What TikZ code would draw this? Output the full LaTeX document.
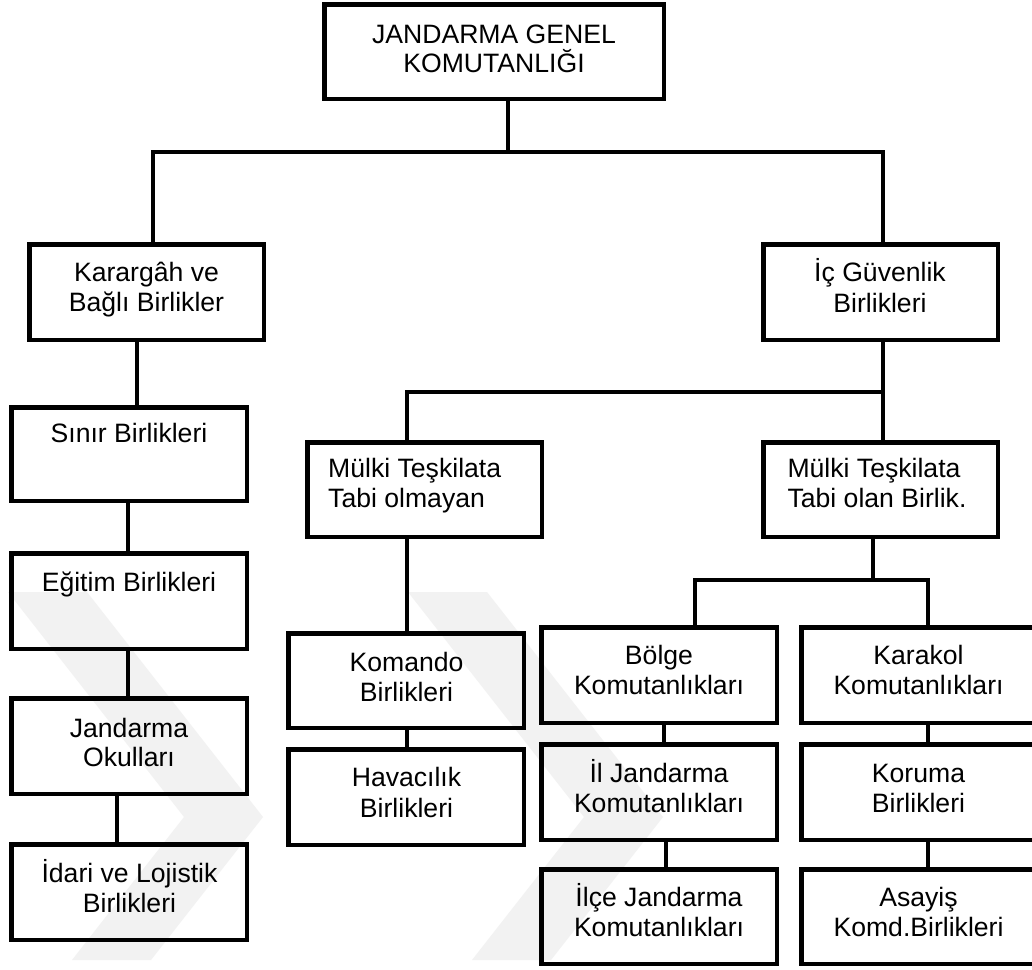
\documentclass[tikz,border=0pt]{standalone}
\usepackage{fontspec}
\setmainfont{Liberation Sans}
\begin{document}
\begin{tikzpicture}[x=1pt,y=-1pt,
  box/.style={draw=black, line width=4.5pt, inner sep=0pt, minimum width=235.5pt, minimum height=95.5pt},
  txt/.style={inner sep=0pt, anchor=base, font=\fontsize{26.6}{30}\selectfont},
  link/.style={draw=black, line width=4.5pt},
  wmark/.style={fill=black!5, draw=none}]
\useasboundingbox (0,0) rectangle (1032,969);
\fill[white] (0,0) rectangle (1032,969);
% faint watermark
\begin{scope}
\clip (0,592) rectangle (1032,960);
\path[wmark] (8,592) -- (87,592) -- (263,817) -- (151,960) -- (72,960) -- (184,817) -- cycle;
\path[wmark] (408,592) -- (487,592) -- (663,817) -- (551,960) -- (472,960) -- (584,817) -- cycle;
\end{scope}
% boxes
\node[box, minimum width=339.5pt, minimum height=94.5pt] (top) at (494,51.5) {};
\node[box, minimum width=234.5pt] (kar) at (146.5,292) {};
\node[box, minimum width=234.5pt] (icg) at (880.5,292) {};
\node[box, minimum height=93.5pt] (sinir) at (129,454) {};
\node[box] (egitim) at (129,601) {};
\node[box] (okul) at (129,746) {};
\node[box] (idari) at (129,892) {};
\node[box, minimum width=234.5pt, minimum height=94.5pt] (mulkL) at (424.5,489.5) {};
\node[box, minimum width=234.5pt, minimum height=94.5pt] (mulkR) at (880.5,489.5) {};
\node[box, minimum height=94.5pt] (komando) at (406,680.5) {};
\node[box] (havacilik) at (406,797) {};
\node[box] (bolge) at (659,675) {};
\node[box] (karakol) at (919,675) {};
\node[box] (il) at (659,792) {};
\node[box] (koruma) at (919,792) {};
\node[box, minimum height=94.5pt] (ilce) at (659,916.5) {};
\node[box, minimum height=94.5pt] (asayis) at (919,916.5) {};
% texts
\node[txt] (topA) at (494,43) {JANDARMA GENEL};
\node[txt] (topB) at (494,72) {KOMUTANLIĞI};
\node[txt] (karA) at (146.5,281) {Karargâh ve};
\node[txt] (karB) at (146.5,311) {Bağlı Birlikler};
\node[txt] (icgA) at (880,281) {İç Güvenlik};
\node[txt] (icgB) at (880,312) {Birlikleri};
\node[txt] (sinirA) at (129,442) {Sınır Birlikleri};
\node[txt] (egitimA) at (129,591) {Eğitim Birlikleri};
\node[txt] (okulA) at (129,737) {Jandarma};
\node[txt] (okulB) at (129,766) {Okulları};
\node[txt] (idariA) at (129.5,882) {İdari ve Lojistik};
\node[txt] (idariB) at (129.5,912) {Birlikleri};
\node[txt, anchor=base west] (mulkLA) at (328,477) {Mülki Teşkilata};
\node[txt, anchor=base west] (mulkLB) at (328,507) {Tabi olmayan};
\node[txt] (mulkRA) at (874,477) {Mülki Teşkilata};
\node[txt] (mulkRB) at (877,507) {Tabi olan Birlik.};
\node[txt] (komandoA) at (406.5,671) {Komando};
\node[txt] (komandoB) at (406.5,701) {Birlikleri};
\node[txt] (havacilikA) at (406.5,786) {Havacılık};
\node[txt] (havacilikB) at (406.5,817) {Birlikleri};
\node[txt] (bolgeA) at (659,664) {Bölge};
\node[txt] (bolgeB) at (659,694) {Komutanlıkları};
\node[txt] (karakolA) at (918.5,664) {Karakol};
\node[txt] (karakolB) at (918.5,694) {Komutanlıkları};
\node[txt] (ilA) at (659,782) {İl Jandarma};
\node[txt] (ilB) at (659,812) {Komutanlıkları};
\node[txt] (korumaA) at (918.5,782) {Koruma};
\node[txt] (korumaB) at (918.5,812) {Birlikleri};
\node[txt] (ilceA) at (659,906) {İlçe Jandarma};
\node[txt] (ilceB) at (659,936) {Komutanlıkları};
\node[txt] (asayisA) at (918.5,906) {Asayiş};
\node[txt] (asayisB) at (918.5,936) {Komd.Birlikleri};
% bus coordinates
\coordinate (busT) at (508,152);
\coordinate (busL) at (153,152);
\coordinate (busR) at (883,152);
\coordinate (xA) at (137,0);
\coordinate (xB) at (128,0);
\coordinate (xC) at (117,0);
\coordinate (bus2L) at (407,392);
\coordinate (bus2R) at (883,392);
\coordinate (bus3T) at (873,580);
\coordinate (bus3L) at (695,580);
\coordinate (bus3R) at (928,580);
\coordinate (xD) at (664,0);
\coordinate (xE) at (666,0);
% connectors
\draw[link] (top.south -| busT) -- (busT);
\draw[link] (kar.north -| busL) -- (busL) -- (busR) -- (icg.north -| busR);
\draw[link] (kar.south -| xA) -- (sinir.north -| xA);
\draw[link] (sinir.south -| xB) -- (egitim.north -| xB);
\draw[link] (egitim.south -| xB) -- (okul.north -| xB);
\draw[link] (okul.south -| xC) -- (idari.north -| xC);
\draw[link] (icg.south -| bus2R) -- (mulkR.north -| bus2R);
\draw[link] (mulkL.north -| bus2L) -- (bus2L) -- (bus2R);
\draw[link] (mulkL.south -| bus2L) -- (komando.north -| bus2L);
\draw[link] (komando.south -| bus2L) -- (havacilik.north -| bus2L);
\draw[link] (mulkR.south -| bus3T) -- (bus3T);
\draw[link] (bolge.north -| bus3L) -- (bus3L) -- (bus3R) -- (karakol.north -| bus3R);
\draw[link] (bolge.south -| xD) -- (il.north -| xD);
\draw[link] (il.south -| xE) -- (ilce.north -| xE);
\draw[link] (karakol.south -| bus3R) -- (koruma.north -| bus3R);
\draw[link] (koruma.south -| bus3R) -- (asayis.north -| bus3R);
\end{tikzpicture}
\end{document}
